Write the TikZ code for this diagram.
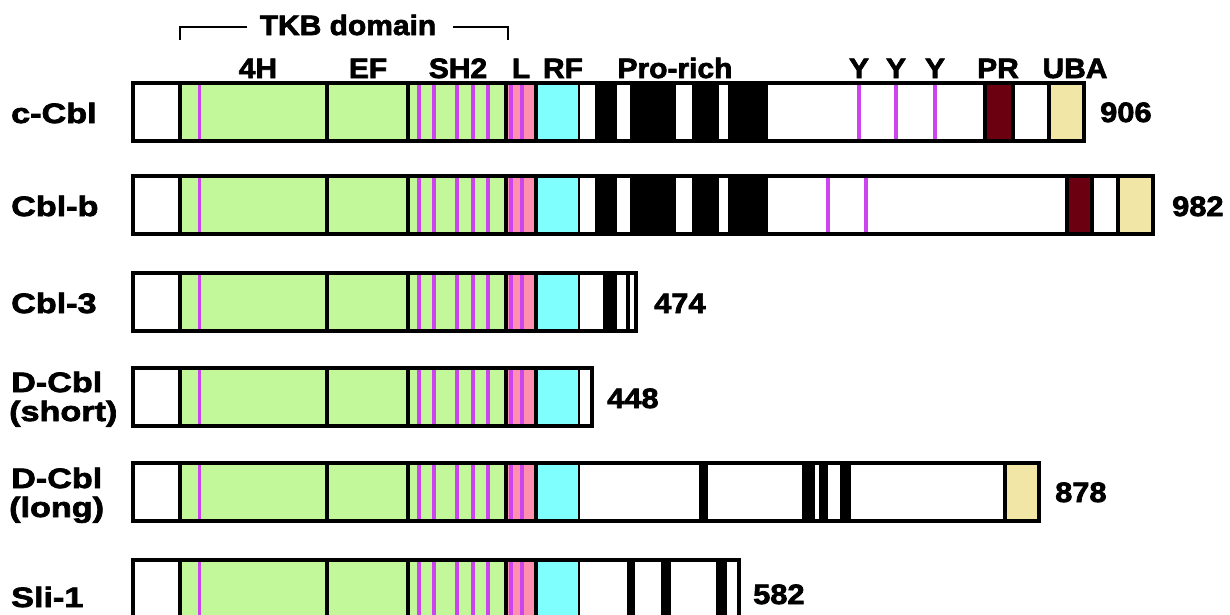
\documentclass[tikz,border=0pt]{standalone}
\usepackage{fontspec}
\setmainfont{Liberation Sans}
\newfontfamily\namefont{Liberation Sans}[FakeStretch=1.22,FakeBold=2.5]
\newfontfamily\headfont{Liberation Sans}[FakeStretch=1.07,FakeBold=2.5]
\newfontfamily\numfont{Liberation Sans}[FakeStretch=1.1,FakeBold=2.5]
\definecolor{tkbgreen}{RGB}{194,247,154}
\definecolor{magline}{RGB}{204,68,238}
\definecolor{lpink}{RGB}{255,143,175}
\definecolor{rfcyan}{RGB}{128,255,255}
\definecolor{prred}{RGB}{107,0,16}
\definecolor{ubabeige}{RGB}{242,230,166}
\tikzset{
  divider/.style={draw=black, line width=3.5pt},
  outline/.style={draw=black, line width=4pt},
  mag/.style={draw=magline, line width=3.5pt},
  lab/.style={font=\headfont\fontsize{28}{30}\selectfont\bfseries, inner sep=0pt},
  namelab/.style={font=\namefont\fontsize{28}{30}\selectfont\bfseries, inner sep=0pt},
  numlab/.style={font=\numfont\fontsize{28}{30}\selectfont\bfseries, inner sep=0pt},
  bracket/.style={draw=black, line width=1.5pt},
}
\newcommand\cblcore{%
  \fill[white] (133,0) rectangle (180,58);
  \fill[tkbgreen] (180,0) rectangle (506,58);
  \fill[lpink] (506,0) rectangle (536,58);
  \fill[rfcyan] (536,0) rectangle (580,58);
  \foreach \x in {199.5,419,434,457,473,488,511,522} \draw[mag] (\x,0) -- (\x,58);
  \foreach \x in {180,327,408,506,536,580} \draw[divider] (\x,0) -- (\x,58);
}
\begin{document}
\begin{tikzpicture}[x=1pt,y=-1pt]
\useasboundingbox (0,0) rectangle (1230,614);
\clip (0,0) rectangle (1230,614);
\fill[white] (0,0) rectangle (1230,614);

% header
\node[lab, anchor=base] (tkb) at (348,35) {TKB domain};
\coordinate (bl1) at (180,40);
\coordinate (bl2) at (180,27);
\coordinate (bl3) at (247,27);
\coordinate (br1) at (453,27);
\coordinate (br2) at (508,27);
\coordinate (br3) at (508,40);
\draw[bracket] (bl1) -- (bl2) -- (bl3);
\draw[bracket] (br1) -- (br2) -- (br3);
\node[lab, anchor=base] (h4h) at (258,78) {4H};
\node[lab, anchor=base] (hef) at (368,78) {EF};
\node[lab, anchor=base] (hsh) at (458,78) {SH2};
\node[lab, anchor=base] (hl) at (521,78) {L};
\node[lab, anchor=base] (hrf) at (563,78) {RF};
\node[lab, anchor=base] (hpro) at (675,78) {Pro-rich};
\node[lab, anchor=base] (hy1) at (859,78) {Y};
\node[lab, anchor=base] (hy2) at (896,78) {Y};
\node[lab, anchor=base] (hy3) at (935,78) {Y};
\node[lab, anchor=base] (hpr) at (998,78) {PR};
\node[lab, anchor=base] (huba) at (1075,78) {UBA};

% c-Cbl
\begin{scope}[shift={(0,83)}]
  \cblcore
  \fill[white] (580,0) rectangle (1084,58);
  \foreach \a/\b in {595/617,630/676,692/719,728/768} \fill[black] (\a,0) rectangle (\b,58);
  \foreach \x in {859,896,935} \draw[mag] (\x,0) -- (\x,58);
  \fill[prred] (985,0) rectangle (1013,58);
  \fill[ubabeige] (1049,0) rectangle (1084,58);
  \foreach \x in {985,1013,1049} \draw[divider] (\x,0) -- (\x,58);
  \draw[outline] (133,0) rectangle (1084,58);
\end{scope}
\node[namelab, anchor=base west] (ncc) at (11,123) {c-Cbl};
\node[numlab, anchor=base west] (lcc) at (1100,122) {906};

% Cbl-b
\begin{scope}[shift={(0,176)}]
  \cblcore
  \fill[white] (580,0) rectangle (1153,58);
  \foreach \a/\b in {595/617,630/676,692/719,728/768} \fill[black] (\a,0) rectangle (\b,58);
  \foreach \x in {828,866} \draw[mag] (\x,0) -- (\x,58);
  \fill[prred] (1067,0) rectangle (1092,58);
  \fill[ubabeige] (1118,0) rectangle (1153,58);
  \foreach \x in {1067,1092,1118} \draw[divider] (\x,0) -- (\x,58);
  \draw[outline] (133,0) rectangle (1153,58);
\end{scope}
\node[namelab, anchor=base west] (ncb) at (11,216) {Cbl-b};
\node[numlab, anchor=base west] (lcb) at (1172,216) {982};

% Cbl-3
\begin{scope}[shift={(0,273)}]
  \cblcore
  \fill[white] (580,0) rectangle (636,58);
  \foreach \a/\b in {603/617,626/629.5} \fill[black] (\a,0) rectangle (\b,58);
  \draw[outline] (133,0) rectangle (636,58);
\end{scope}
\node[namelab, anchor=base west] (nc3) at (11,313) {Cbl-3};
\node[numlab, anchor=base west] (lc3) at (654,313) {474};

% D-Cbl short
\begin{scope}[shift={(0,368)}]
  \cblcore
  \fill[white] (580,0) rectangle (592,58);
  \draw[outline] (133,0) rectangle (592,58);
\end{scope}
\node[namelab, anchor=base west] (nds1) at (11,392) {D-Cbl};
\node[namelab, anchor=base west] (nds2) at (9,421) {(short)};
\node[numlab, anchor=base west] (lds) at (607,408) {448};

% D-Cbl long
\begin{scope}[shift={(0,463)}]
  \cblcore
  \fill[white] (580,0) rectangle (1039,58);
  \foreach \a/\b in {699/708,802/815,819/828,840/851} \fill[black] (\a,0) rectangle (\b,58);
  \fill[ubabeige] (1005,0) rectangle (1039,58);
  \draw[divider] (1005,0) -- (1005,58);
  \draw[outline] (133,0) rectangle (1039,58);
\end{scope}
\node[namelab, anchor=base west] (ndl1) at (11,488) {D-Cbl};
\node[namelab, anchor=base west] (ndl2) at (9,517) {(long)};
\node[numlab, anchor=base west] (ldl) at (1055,502) {878};

% Sli-1
\begin{scope}[shift={(0,560)}]
  \cblcore
  \fill[white] (580,0) rectangle (739,58);
  \foreach \a/\b in {627/635,661/671,716/727} \fill[black] (\a,0) rectangle (\b,58);
  \draw[outline] (133,0) rectangle (739,58);
\end{scope}
\node[namelab, anchor=base west] (nsl) at (11,607) {Sli-1};
\node[numlab, anchor=base west] (lsl) at (753,604) {582};
\end{tikzpicture}
\end{document}
